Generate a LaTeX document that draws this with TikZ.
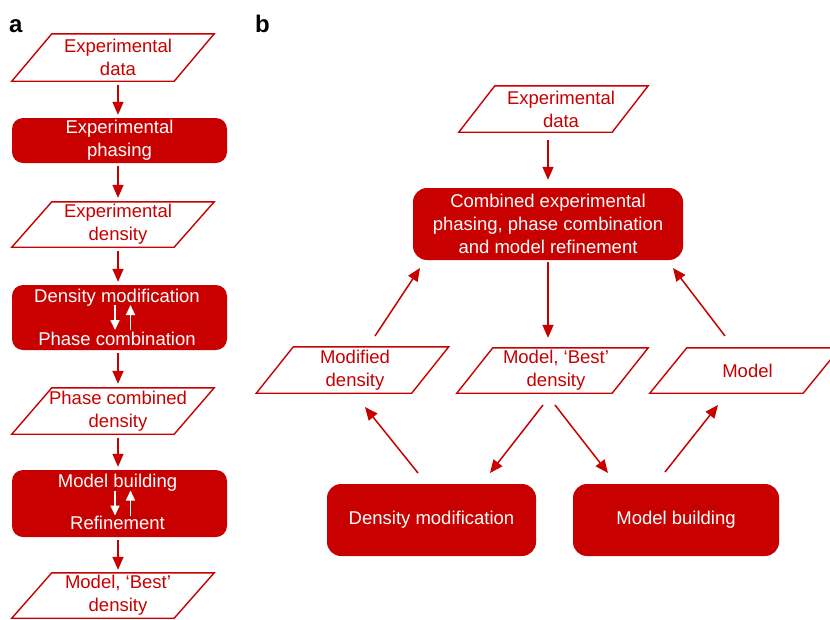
\documentclass[tikz,border=0pt]{standalone}
\usepackage{fontspec}
\setmainfont{Liberation Sans}
\usetikzlibrary{arrows.meta,calc}
\definecolor{fred}{RGB}{200,0,0}
% #1 node, #2 x offset of parallelogram centre, #3 half slant
\newcommand\paragon[3]{%
  \draw[pline] ([shift={(#2-#3,0)}]#1.south west) -- ([shift={(#2-#3,0)}]#1.south east)
    -- ([shift={(#2+#3,0)}]#1.north east) -- ([shift={(#2+#3,0)}]#1.north west) -- cycle;}
\begin{document}
\begin{tikzpicture}[x=1pt,y=-1pt,
  ptxt/.style={text=fred, font=\fontsize{18.5}{23}\selectfont, align=center, inner sep=0pt},
  wtxt/.style={text=white, font=\fontsize{18.5}{23}\selectfont, align=center, inner sep=0pt},
  fbox/.style={fill=fred, draw=none, rounded corners=11pt, text=white,
    font=\fontsize{18.5}{23}\selectfont, align=center, inner sep=0pt},
  pline/.style={draw=fred, line width=1.4pt, line join=miter},
  arr/.style={draw=fred, line width=1.5pt, -{Triangle[length=13pt,width=11pt]}},
  warr/.style={draw=white, line width=1.7pt, -{Triangle[length=10pt,width=9pt]}},
  lab/.style={font=\bfseries\fontsize{24}{24}\selectfont, anchor=base west, inner sep=0pt}
]
\clip (0,0) rectangle (830,619);
\fill[white] (0,0) rectangle (830,619);

\node[lab] (la) at (9,32) {a};
\node[lab] (lb) at (255,32) {b};

% ---------- panel a ----------
\node[ptxt, minimum width=162pt, minimum height=47pt] (p1) at (118,57.5) {Experimental\\data};
\paragon{p1}{-5}{20}
\node[fbox, minimum width=215pt, minimum height=45pt] (b1) at (119.5,140.5) {Experimental\\phasing};
\node[ptxt, minimum width=162pt, minimum height=45pt] (p2) at (118,224.5) {Experimental\\density};
\paragon{p2}{-5}{20}
\node[fbox, minimum width=215pt, minimum height=65pt] (b2) at (119.5,317.5) {};
\node[wtxt, anchor=base] (b2a) at (117,302) {Density modification};
\node[wtxt, anchor=base] (b2b) at (117,345) {Phase combination};
\draw[warr] ([shift={(-4.5,-12.5)}]b2.center) -- ([shift={(-4.5,12.5)}]b2.center);
\draw[warr] ([shift={(11,12.5)}]b2.center) -- ([shift={(11,-12.5)}]b2.center);
\node[ptxt, minimum width=162pt, minimum height=46pt] (p3) at (118,411) {Phase combined\\density};
\paragon{p3}{-5}{20}
\node[fbox, minimum width=215pt, minimum height=67pt] (b3) at (119.5,503.5) {};
\node[wtxt, anchor=base] (b3a) at (117.5,487.3) {Model building};
\node[wtxt, anchor=base] (b3b) at (117.5,529.3) {Refinement};
\draw[warr] ([shift={(-4.5,-13)}]b3.center) -- ([shift={(-4.5,12)}]b3.center);
\draw[warr] ([shift={(11,12)}]b3.center) -- ([shift={(11,-13)}]b3.center);
\node[ptxt, minimum width=162pt, minimum height=45pt] (p4) at (118,595.5) {Model, ‘Best’\\density};
\paragon{p4}{-5}{20}

\draw[arr, shorten <=4pt, shorten >=3pt] (p1.south) -- (p1.south |- b1.north);
\draw[arr, shorten <=3pt, shorten >=4pt] (b1.south -| p2.north) -- (p2.north);
\draw[arr, shorten <=4pt, shorten >=3pt] (p2.south) -- (p2.south |- b2.north);
\draw[arr, shorten <=3pt, shorten >=4pt] (b2.south -| p3.north) -- (p3.north);
\draw[arr, shorten <=4pt, shorten >=3pt] (p3.south) -- (p3.south |- b3.north);
\draw[arr, shorten <=3pt, shorten >=3pt] (b3.south -| p4.north) -- (p4.north);

% ---------- panel b ----------
\node[ptxt, minimum width=153pt, minimum height=46pt] (edb) at (561,109) {Experimental\\data};
\paragon{edb}{-7.5}{18}
\node[fbox, rounded corners=14pt, minimum width=270pt, minimum height=72pt] (big) at (548,224)
  {Combined experimental\\phasing, phase combination\\and model refinement};
\node[ptxt, minimum width=155pt, minimum height=46pt] (md) at (355,370) {Modified\\density};
\paragon{md}{-2.5}{18.5}
\node[ptxt, minimum width=155pt, minimum height=45pt] (best) at (556,370.5) {Model, ‘Best’\\density};
\paragon{best}{-3.5}{18}
\node[ptxt, minimum width=153pt, minimum height=45pt] (mod) at (747.5,370.5) {Model};
\paragon{mod}{-2.5}{18.5}
\node[fbox, rounded corners=14pt, minimum width=209pt, minimum height=72pt] (dm) at (431.5,520) {Density modification};
\node[fbox, rounded corners=14pt, minimum width=206pt, minimum height=72pt] (mb) at (676,520) {Model building};

\draw[arr, shorten <=8pt, shorten >=8pt] (edb.south -| big.north) -- (big.north);
\draw[arr, shorten <=2pt, shorten >=10pt] (big.south) -- (big.south |- best.north);
\draw[arr] ([shift={(20,-34)}]md.center) -- ([shift={(-128,44)}]big.center);
\draw[arr] ([shift={(-22.5,-34.5)}]mod.center) -- ([shift={(125,44)}]big.center);
\draw[arr] ([shift={(-13,34.5)}]best.center) -- ([shift={(58.5,-47)}]dm.center);
\draw[arr] ([shift={(-1,34.5)}]best.center) -- ([shift={(-68,-47)}]mb.center);
\draw[arr] ([shift={(-13.5,-47)}]dm.center) -- ([shift={(10,37)}]md.center);
\draw[arr] ([shift={(-11,-48)}]mb.center) -- ([shift={(-29.5,34.5)}]mod.center);
\end{tikzpicture}
\end{document}
